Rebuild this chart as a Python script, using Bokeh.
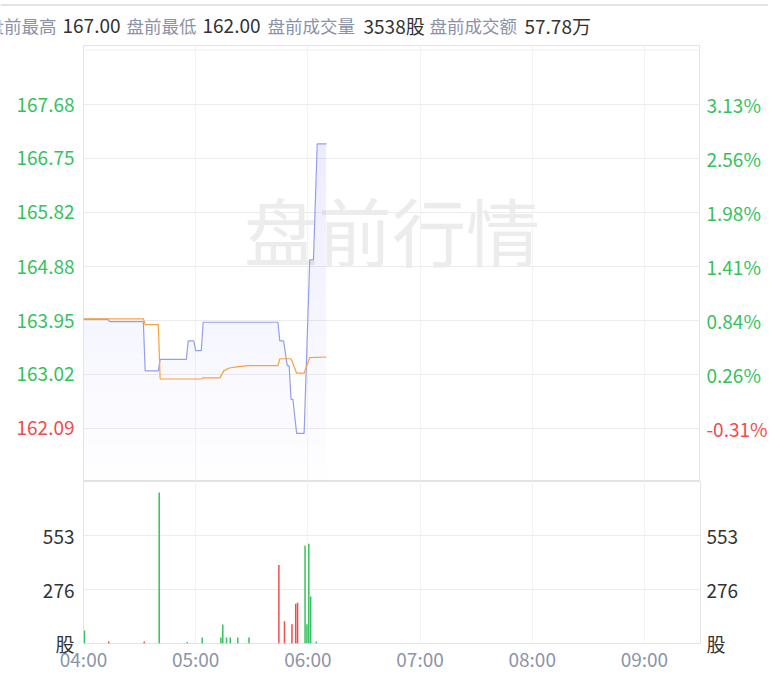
import numpy as np
from bokeh.plotting import figure
from bokeh.layouts import column, row
from bokeh.models import Range1d, FixedTicker, LinearAxis, Span
from bokeh.core.properties import value
from bokeh.embed import file_html
from bokeh.resources import INLINE

# ---------------- data ----------------
# minutes after 04:00
price_min = [0, 13, 14, 32, 33, 40, 41, 55, 56, 59, 60, 63, 64, 104, 105, 107, 109, 110,
             111, 112, 114, 118, 121, 123, 125, 130]
price_val = [163.97, 163.97, 163.93, 163.93, 163.08, 163.08, 163.28, 163.28, 163.60, 163.60,
             163.43, 163.43, 163.92, 163.92, 163.60, 163.60, 163.17, 163.17, 162.59, 162.59,
             162.00, 162.00, 165.00, 165.00, 167.00, 167.00]

avg_min = [0, 32, 33, 40, 41, 63, 64, 73, 75, 78, 82, 88, 104, 105, 111, 114, 118, 121, 130]
avg_val = [163.98, 163.98, 163.88, 163.88, 162.94, 162.94, 162.96, 162.96, 163.08, 163.13,
           163.15, 163.17, 163.17, 163.29, 163.29, 163.04, 163.04, 163.31, 163.32]

vol_min = [0, 13, 32, 40, 55, 63, 73, 74, 76, 78, 82, 88, 104, 107, 111, 113, 114, 118, 119,
           120, 121, 124]
vol_val = [67, 10, 10, 773, 8, 31, 31, 97, 31, 31, 31, 31, 402, 114, 99, 204, 209, 500, 99,
           510, 240, 10]
vol_up = [1, 0, 0, 1, 1, 1, 1, 1, 1, 1, 1, 1, 0, 0, 0, 0, 0, 1, 1, 1, 1, 1]

prev_close = 162.59
price_ticks = [162.09, 163.02, 163.95, 164.88, 165.82, 166.75, 167.68]
price_labels = ["162.09", "163.02", "163.95", "164.88", "165.82", "166.75", "167.68"]
pct_labels = ["-0.31%", "0.26%", "0.84%", "1.41%", "1.98%", "2.56%", "3.13%"]
vol_ticks = [0, 276, 553]
vol_tick_labels = ["股", "276", "553"]
hour_ticks = [0, 60, 120, 180, 240, 300]
hour_labels = ["04:00", "05:00", "06:00", "07:00", "08:00", "09:00"]

header_labels = ["盘前最高", "盘前最低", "盘前成交量", "盘前成交额"]
header_values = ["167.00", "162.00", "3538股", "57.78万"]
watermark = "盘前行情"

# ---------------- style / layout ----------------
FONT = "Noto Sans CJK SC"
GREEN = "#35C25E"
RED = "#F24B4B"
DARK = "#333333"
GRAY = "#8A92A6"
XGRAY = "#8C94A7"
BLUE = "#939EEE"
ORANGE = "#F6A23E"
FILL = "#6673E6"
GRID = "#ECECEC"
VGRID = "#F3F3F3"
BORDER = "#E3E3E3"

W = 768
LEFT_W, FRAME_W, RIGHT_W = 83, 617, 68
HEAD_H, PRICE_H = 45, 436
VOL_FRAME_H, VOL_BOTTOM = 162, 31
Y_LO, Y_HI = 161.17, 168.70
V_HI = 829

x_range = Range1d(0, 330)
y_price = Range1d(Y_LO, Y_HI)


def bare(width, height, **kw):
    f = figure(width=width, height=height, toolbar_location=None, output_backend="svg",
               x_axis_location=None, y_axis_location=None, min_border=0,
               outline_line_color=None, background_fill_color="white",
               border_fill_color="white", **kw)
    f.grid.visible = False
    return f


# ---------------- header ----------------
head = bare(W, HEAD_H, x_range=Range1d(0, W), y_range=Range1d(HEAD_H, 0))
head.segment(x0=0, y0=4.5, x1=W, y1=4.5, line_color="#DDE4EC", line_width=2)
label_x = [-14, 126, 267, 429]
value_x = [62, 202, 363, 524]
head.text(x=label_x, y=[25] * 4, text=header_labels, text_color=GRAY,
          text_font=value(FONT), text_font_size="17.5px", text_baseline="middle")
head.text(x=value_x, y=[25] * 4, text=header_values, text_color=DARK,
          text_font=value(FONT), text_font_size="19px", text_baseline="middle")

# ---------------- price pane ----------------
p = bare(FRAME_W, PRICE_H, x_range=x_range, y_range=y_price)
p.outline_line_color = BORDER
p.grid.visible = True
p.xgrid.ticker = FixedTicker(ticks=hour_ticks)
p.ygrid.ticker = FixedTicker(ticks=price_ticks)
p.ygrid.grid_line_color = GRID
p.xgrid.grid_line_color = VGRID
px_per_unit = PRICE_H / (Y_HI - Y_LO)
p.add_layout(Span(location=Y_HI - 4.5 / px_per_unit, dimension="width",
                  line_color="#EFEFEF", line_width=1))

p.text(x=[165], y=[Y_HI - (228 - HEAD_H) / px_per_unit], text=[watermark],
       text_align="center", text_baseline="middle", text_color="#ECECEC",
       text_font=value(FONT), text_font_size="74px")

# gradient fill under the price line (stacked translucent layers)
n_layers = 24
edges = np.linspace(Y_LO, Y_HI, n_layers + 1)
t = np.array(price_min, float)
pv = np.array(price_val, float)
rt, rp = [t[0]], [pv[0]]
for i in range(len(t) - 1):
    t0, t1, p0, p1 = t[i], t[i + 1], pv[i], pv[i + 1]
    if p1 != p0:
        lv = edges[(edges > min(p0, p1)) & (edges < max(p0, p1))]
        if p1 < p0:
            lv = lv[::-1]
        for L in lv:
            rt.append(t0 + (L - p0) / (p1 - p0) * (t1 - t0))
            rp.append(L)
    rt.append(t1)
    rp.append(p1)
rt, rp = np.array(rt), np.array(rp)
for j in range(n_layers):
    a = edges[j]
    p.varea(x=rt, y1=np.full_like(rp, Y_LO if j == 0 else a), y2=np.maximum(rp, a),
            fill_color=FILL, fill_alpha=0.0045)

p.line(price_min, price_val, line_color=BLUE, line_width=1.2)
p.line(avg_min, avg_val, line_color=ORANGE, line_width=1.2)

tick_colors = [GREEN if v >= prev_close else RED for v in price_ticks]
lp = bare(LEFT_W, PRICE_H, x_range=Range1d(0, LEFT_W), y_range=y_price)
lp.text(x=[LEFT_W - 9] * len(price_ticks), y=price_ticks, text=price_labels,
        text_align="right", text_baseline="middle", text_color=tick_colors,
        text_font=value(FONT), text_font_size="19px")
rpf = bare(RIGHT_W, PRICE_H, x_range=Range1d(0, RIGHT_W), y_range=y_price)
rpf.text(x=[6] * len(price_ticks), y=price_ticks, text=pct_labels,
         text_align="left", text_baseline="middle", text_color=tick_colors,
         text_font=value(FONT), text_font_size="19px")

# ---------------- volume pane ----------------
v = figure(width=W, height=VOL_FRAME_H + VOL_BOTTOM, x_range=x_range, y_range=Range1d(0, V_HI),
           x_axis_location="below", y_axis_location="left", toolbar_location=None,
           output_backend="svg", min_border_left=LEFT_W, min_border_right=RIGHT_W,
           min_border_top=0, min_border_bottom=VOL_BOTTOM,
           outline_line_color=BORDER, background_fill_color="white",
           border_fill_color="white")
v.add_layout(LinearAxis(), "right")
v.xgrid.ticker = FixedTicker(ticks=hour_ticks)
v.ygrid.ticker = FixedTicker(ticks=vol_ticks[1:])
v.ygrid.grid_line_color = GRID
v.xgrid.grid_line_color = VGRID

v.xaxis.ticker = FixedTicker(ticks=hour_ticks)
v.xaxis.major_label_overrides = {tk: lb for tk, lb in zip(hour_ticks, hour_labels)}
v.xaxis.major_label_text_color = XGRAY
v.xaxis.major_label_standoff = 1
for ax in v.yaxis:
    ax.ticker = FixedTicker(ticks=vol_ticks)
    ax.major_label_overrides = {tk: lb for tk, lb in zip(vol_ticks, vol_tick_labels)}
    ax.major_label_text_color = DARK
v.yaxis[0].major_label_standoff = 9
v.yaxis[1].major_label_standoff = 6
for ax in list(v.xaxis) + list(v.yaxis):
    ax.major_label_text_font = FONT
    ax.major_label_text_font_size = "19px"
    ax.major_tick_line_color = None
    ax.minor_tick_line_color = None
    ax.major_tick_out = 0
    ax.major_tick_in = 0
    ax.minor_tick_out = 0
    ax.minor_tick_in = 0
    ax.axis_line_color = None

v.vbar(x=[m + 0.5 for m in vol_min], top=vol_val, bottom=0, width=0.8,
       fill_color=[GREEN if u else RED for u in vol_up], line_color=None)

layout = column(row(head, spacing=0), row(lp, p, rpf, spacing=0), row(v, spacing=0),
                spacing=0)
open("out.html", "w").write(file_html(layout, INLINE))
